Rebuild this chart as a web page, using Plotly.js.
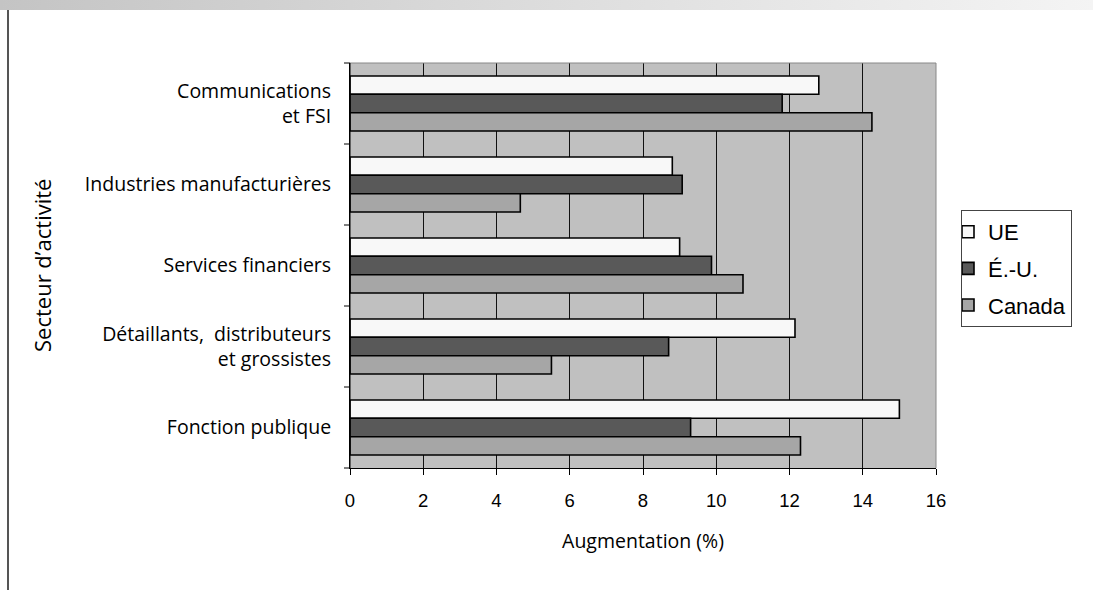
<!DOCTYPE html>
<html><head><meta charset="utf-8">
<script src="https://cdn.plot.ly/plotly-3.0.1.min.js"></script>
<style>html,body{margin:0;padding:0;background:#fff;}#chart{width:1093px;height:590px;}</style>
</head><body><div id="chart"></div>
<script>
const categories = ["Communications<br>et FSI", "Industries manufacturières", "Services financiers", "Détaillants,  distributeurs<br>et grossistes", "Fonction publique"];
const seriesNames = ["UE", "É.-U.", "Canada"];
const ueValues = [12.8, 8.8, 9.0, 12.15, 15.0];
const usValues = [11.8, 9.07, 9.87, 8.7, 9.3];
const canadaValues = [14.25, 4.65, 10.73, 5.5, 12.3];
const xTicks = [0, 2, 4, 6, 8, 10, 12, 14, 16];
const colors = ["#f8f8f8", "#595959", "#a6a6a6"];

const allValues = [ueValues, usValues, canadaValues];
const traces = allValues.map((vals, i) => ({
  type: "bar", orientation: "h", name: seriesNames[i], legendgroup: "g" + i,
  x: vals, y: categories,
  marker: {color: colors[i], line: {color: "#000", width: 1.6}},
  hoverinfo: "x+name"
}));

const W = 586, H = 405;
const layout = {
  width: 1093, height: 590,
  margin: {l: 350, r: 157, t: 63, b: 122},
  paper_bgcolor: "#fff", plot_bgcolor: "#c0c0c0",
  barmode: "group", bargap: 0.32, bargroupgap: 0,
  showlegend: true,
  legend: {x: (961-350)/W, xanchor: "left", y: (468-210)/H, yanchor: "top",
    traceorder: "grouped", tracegroupgap: 5, indentation: -14,
    bordercolor: "#444", borderwidth: 1, bgcolor: "#fff",
    font: {family: "Liberation Sans, Arial, sans-serif", size: 22, color: "#000"},
    itemwidth: 30},
  xaxis: {range: [0, 16], tickvals: xTicks, ticktext: xTicks.map(String),
    showgrid: true, gridcolor: "#111", gridwidth: 1, zeroline: false,
    showline: true, linecolor: "#000", linewidth: 1,
    ticks: "outside", ticklen: 6, tickcolor: "#000", ticklabelstandoff: 10,
    tickfont: {family: "Liberation Sans, Arial, sans-serif", size: 18.5, color: "#000"},
    title: {text: "Augmentation (%)", font: {family: "Open Sans, Noto Sans, sans-serif", size: 19.5, color: "#000"}, standoff: 24},
    automargin: false, fixedrange: true},
  yaxis: {type: "category", categoryorder: "array", categoryarray: categories, autorange: "reversed",
    showgrid: false, zeroline: false, showline: true, linecolor: "#000", linewidth: 1,
    ticks: "", ticklabelstandoff: 14, automargin: false,
    tickfont: {family: "Open Sans, Noto Sans, sans-serif", size: 19.5, color: "#000"},
    fixedrange: true},
  annotations: [
    {text: "Secteur d’activité", xref: "paper", yref: "paper", x: (42-350)/W, y: (468-266)/H,
     xanchor: "center", yanchor: "middle", textangle: -90, showarrow: false,
     font: {family: "Open Sans, Noto Sans, sans-serif", size: 22, color: "#000"}}
  ],
  shapes: [
    {type: "line", xref: "paper", yref: "paper", x0: 0, x1: 1, y0: 1, y1: 1, line: {color: "#888", width: 1}},
    {type: "line", xref: "paper", yref: "paper", x0: 1, x1: 1, y0: 0, y1: 1, line: {color: "#888", width: 1}},
    {type: "line", xref: "paper", yref: "paper", x0: 0, x1: 0, y0: 0, y1: 1, line: {color: "#000", width: 1}}
  ].concat([0,1,2,3,4,5].map(k => ({type: "line", xref: "paper", yref: "paper",
      x0: -6/W, x1: 0, y0: k/5, y1: k/5, line: {color: "#000", width: 1}})))
   .concat([{type: "line", xref: "paper", yref: "paper", x0: (8-350)/W, x1: (8-350)/W,
      y0: -122/H, y1: 1 + 53/H, line: {color: "#555", width: 2}}])
};

Plotly.newPlot("chart", traces, layout, {displayModeBar: false, staticPlot: true});
</script>
<div style="position:absolute;left:0;top:0;width:1093px;height:10px;background:linear-gradient(to right,#c4c4c4,#d8d8d8 40%,#f4f4f4 100%);"></div>
</body></html>
